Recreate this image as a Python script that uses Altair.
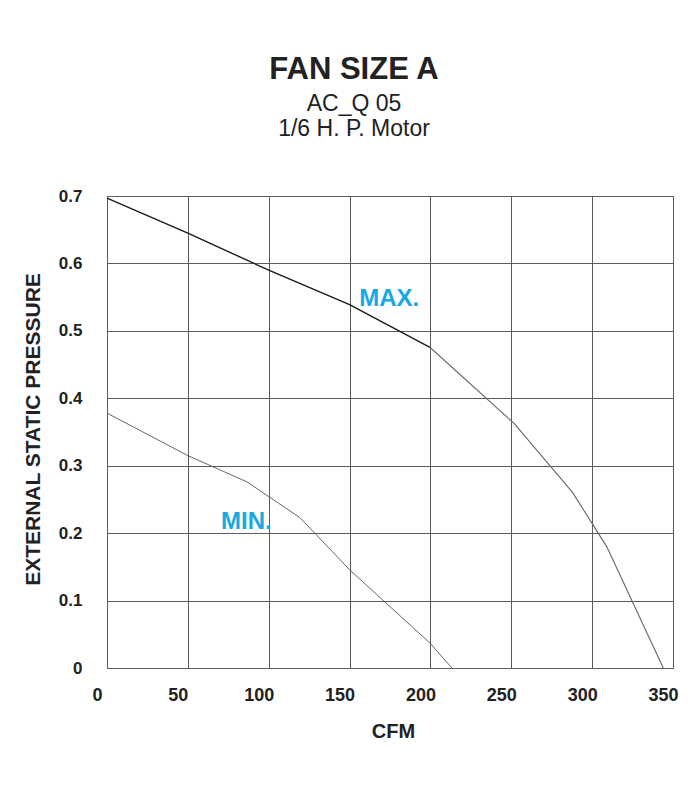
import altair as alt
import pandas as pd

# ---- data ----
max_cfm = [0, 50, 100, 150, 200]
max_esp = [0.697, 0.645, 0.590, 0.539, 0.475]
max2_cfm = [200, 252, 288, 309, 344]
max2_esp = [0.475, 0.362, 0.260, 0.180, 0.0]
min_cfm = [0, 50, 86.6, 119.3, 150.3, 199.7, 213.3]
min_esp = [0.378, 0.315, 0.276, 0.223, 0.145, 0.037, 0.0]

label_text = ["MAX.", "MIN."]
label_cfm = [156, 70.5]
label_esp = [0.537, 0.206]

x_ticks = [0, 50, 100, 150, 200, 250, 300, 350]
y_ticks = [0, 0.1, 0.2, 0.3, 0.4, 0.5, 0.6, 0.7]

rows = []
for c, p in zip(max_cfm, max_esp):
    rows.append({"cfm": c, "esp": p, "seg": "max_a"})
for c, p in zip(max2_cfm, max2_esp):
    rows.append({"cfm": c, "esp": p, "seg": "max_b"})
for c, p in zip(min_cfm, min_esp):
    rows.append({"cfm": c, "esp": p, "seg": "min"})
df = pd.DataFrame(rows)
labels = pd.DataFrame({"t": label_text, "cfm": label_cfm, "esp": label_esp})

GRID = "#5c5c5c"
CYAN = "#17a9e3"

x_scale = alt.Scale(domain=[0, 350], nice=False, zero=False)
y_scale = alt.Scale(domain=[0, 0.7], nice=False, zero=False)

x_axis = alt.Axis(
    values=x_ticks, title="CFM", grid=True, gridColor=GRID, gridOpacity=1, gridWidth=1,
    domainColor=GRID, ticks=False, tickSize=0, labelPadding=18, labelOffset=-10,
    labelFont="Liberation Sans", labelFontWeight="bold", labelFontSize=18, labelColor="#222",
    titleFont="Liberation Sans", titleFontWeight="bold", titleFontSize=20, titleColor="#222",
    titleX=286, titleY=69, titleBaseline="alphabetic", titleAnchor="start", titleAlign="center",
    labelFlush=False, labelOverlap=False,
)
y_axis = alt.Axis(
    values=y_ticks, title="EXTERNAL STATIC PRESSURE", grid=True, gridColor=GRID, gridOpacity=1,
    gridWidth=1, domainColor=GRID, ticks=False, tickSize=0, labelPadding=25,
    labelExpr="datum.value == 0 ? '0' : format(datum.value, '.1f')",
    labelFont="Liberation Sans Narrow, Liberation Sans, sans-serif", labelFontWeight="bold",
    labelFontSize=17, labelColor="#222",
    titleFont="Liberation Sans", titleFontWeight="bold", titleFontSize=21, titleColor="#222",
    titleX=-68, titleY=233, titleBaseline="alphabetic", titleAngle=-90, titleAlign="center",
    labelFlush=False, labelOverlap=False,
)

lines = alt.Chart(df).mark_line(interpolate="linear").encode(
    x=alt.X("cfm:Q", scale=x_scale, axis=x_axis),
    y=alt.Y("esp:Q", scale=y_scale, axis=y_axis),
    detail="seg:N",
    color=alt.Color("seg:N", scale=alt.Scale(domain=["max_a", "max_b", "min"],
                                              range=["#1a1a1a", "#6a6a6a", "#555555"]), legend=None),
    strokeWidth=alt.StrokeWidth("seg:N", scale=alt.Scale(domain=["max_a", "max_b", "min"],
                                                         range=[1.4, 0.9, 0.9]), legend=None),
    order="cfm:Q",
)

texts = alt.Chart(labels).mark_text(
    align="left", baseline="alphabetic", font="Liberation Sans", fontWeight="bold",
    fontSize=24, color=CYAN,
).encode(
    x=alt.X("cfm:Q", scale=x_scale),
    y=alt.Y("esp:Q", scale=y_scale),
    text="t:N",
)

chart = alt.layer(lines, texts).properties(
    width=566, height=472,
    autosize=alt.AutoSizeParams(type="none"),
    padding={"left": 99, "top": 188, "right": 7, "bottom": 100},
    title=alt.TitleParams(
        text="FAN SIZE A", subtitle=["AC_Q 05", "1/6 H. P. Motor"],
        font="Liberation Sans", fontWeight="bold", fontSize=31, color="#222",
        subtitleFont="Liberation Sans", subtitleFontSize=23, subtitleColor="#222",
        subtitleLineHeight=25, subtitlePadding=7,
        anchor="middle", dx=-36, offset=45,
    ),
).configure_view(stroke=GRID, strokeWidth=1).configure(background="white")

chart.save("out.html", embed_options={"renderer": "svg", "actions": False})
